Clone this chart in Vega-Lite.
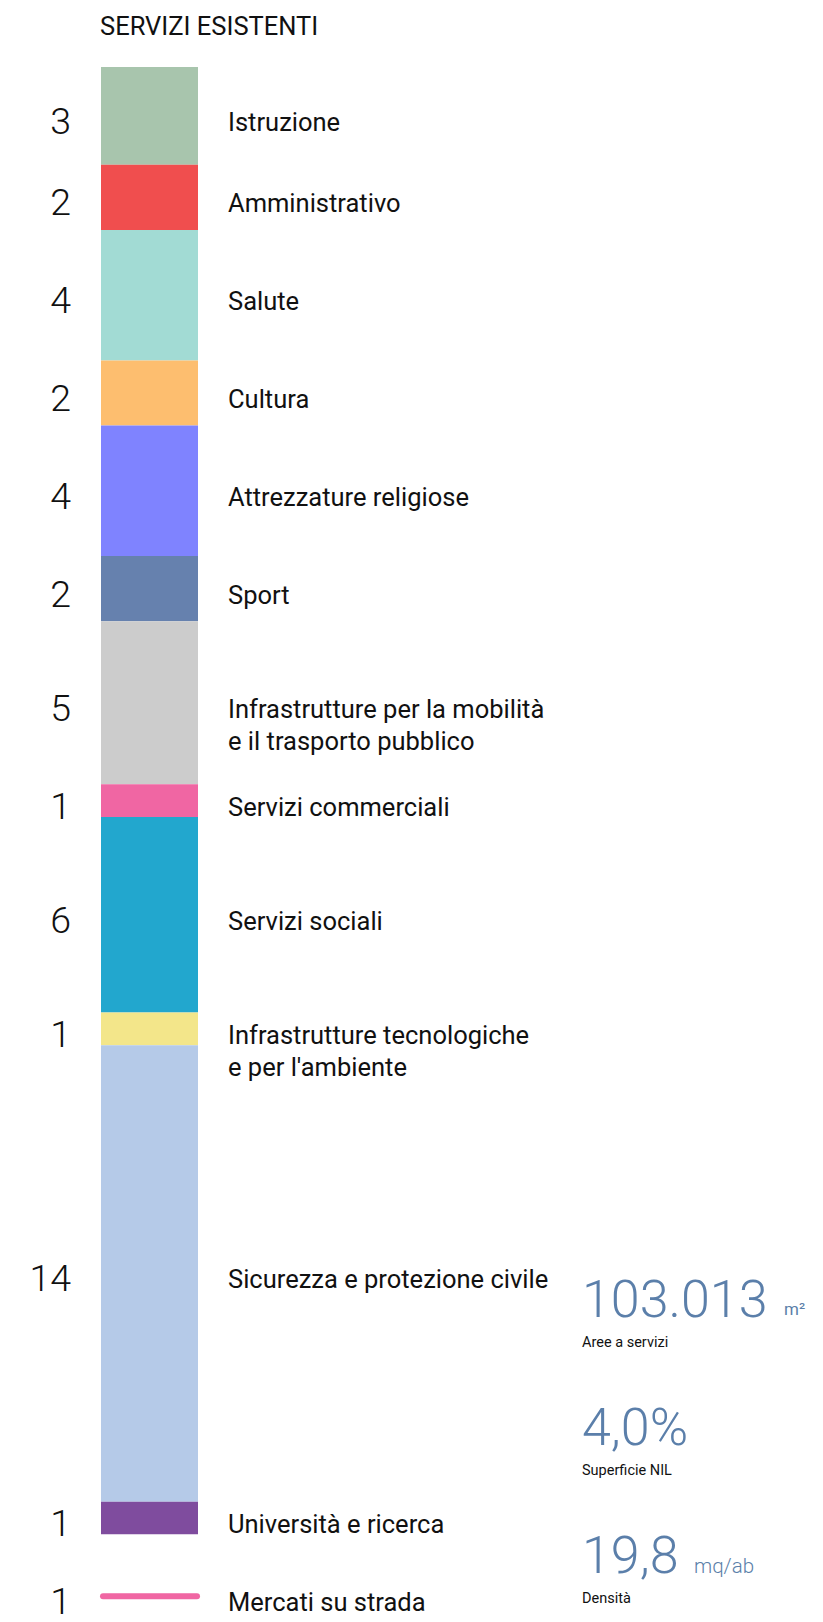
{
  "$schema": "https://vega.github.io/schema/vega-lite/v6.json",
  "width": 823,
  "height": 1622,
  "autosize": {"type": "fit", "contains": "padding"},
  "padding": 0,
  "background": "#ffffff",
  "config": {"view": {"stroke": null}, "font": "Roboto"},
  "datasets": {
    "servizi": [
      {"categoria": "Istruzione", "n": 3, "ordine": 1},
      {"categoria": "Amministrativo", "n": 2, "ordine": 2},
      {"categoria": "Salute", "n": 4, "ordine": 3},
      {"categoria": "Cultura", "n": 2, "ordine": 4},
      {"categoria": "Attrezzature religiose", "n": 4, "ordine": 5},
      {"categoria": "Sport", "n": 2, "ordine": 6},
      {"categoria": "Infrastrutture per la mobilità\ne il trasporto pubblico", "n": 5, "ordine": 7},
      {"categoria": "Servizi commerciali", "n": 1, "ordine": 8},
      {"categoria": "Servizi sociali", "n": 6, "ordine": 9},
      {"categoria": "Infrastrutture tecnologiche\ne per l'ambiente", "n": 1, "ordine": 10},
      {"categoria": "Sicurezza e protezione civile", "n": 14, "ordine": 11},
      {"categoria": "Università e ricerca", "n": 1, "ordine": 12}
    ],
    "mercati": [
      {"categoria": "Mercati su strada", "n": 1}
    ],
    "stats": [
      {"valore": "103.013", "unita": "m²", "didascalia": "Aree a servizi"},
      {"valore": "4,0%", "unita": "", "didascalia": "Superficie NIL"},
      {"valore": "19,8", "unita": "mq/ab", "didascalia": "Densità"}
    ],
    "titolo": [
      {"testo": "SERVIZI ESISTENTI"}
    ]
  },
  "layer": [
    {
      "data": {"name": "servizi"},
      "layer": [
        {
          "transform": [
            {"stack": "n", "groupby": [], "sort": [{"field": "ordine", "order": "ascending"}], "as": ["inizio", "fine"]}
          ],
          "mark": {"type": "rect"},
          "encoding": {
            "x": {"datum": 101, "type": "quantitative", "scale": {"domain": [0, 823], "nice": false, "zero": false}, "axis": null},
            "x2": {"datum": 198},
            "y": {"field": "inizio", "type": "quantitative", "scale": {"domain": [-2.052, 47.475], "reverse": true, "nice": false, "zero": false}, "axis": null},
            "y2": {"field": "fine"},
            "color": {
              "field": "categoria", "type": "nominal", "legend": null,
              "scale": {
                "domain": ["Istruzione", "Amministrativo", "Salute", "Cultura", "Attrezzature religiose", "Sport", "Infrastrutture per la mobilità\ne il trasporto pubblico", "Servizi commerciali", "Servizi sociali", "Infrastrutture tecnologiche\ne per l'ambiente", "Sicurezza e protezione civile", "Università e ricerca"],
                "range": ["#A8C5AD", "#F04E4E", "#A2DBD4", "#FDBE6F", "#7F83FF", "#6681AE", "#CCCCCC", "#F066A3", "#22A7CE", "#F3E68A", "#B5CAE8", "#7F4C9E"]
              }
            }
          }
        },
        {
          "mark": {"type": "text", "align": "right", "baseline": "middle", "fontSize": 37.5, "fontWeight": 300, "color": "#111111", "dy": 7},
          "encoding": {
            "x": {"datum": 71, "type": "quantitative", "scale": {"domain": [0, 823], "nice": false, "zero": false}, "axis": null},
            "y": {"field": "n", "type": "quantitative", "stack": "zero", "bandPosition": 0.5, "scale": {"domain": [-2.052, 47.475], "reverse": true, "nice": false, "zero": false}, "axis": null},
            "detail": {"field": "categoria", "type": "nominal"},
            "order": {"field": "ordine", "type": "quantitative"},
            "text": {"field": "n", "type": "quantitative"}
          }
        },
        {
          "mark": {"type": "text", "align": "left", "baseline": "middle", "fontSize": 25.5, "fontWeight": 400, "color": "#111111", "dy": 7, "lineBreak": "\n", "lineHeight": 32},
          "encoding": {
            "x": {"datum": 228, "type": "quantitative", "scale": {"domain": [0, 823], "nice": false, "zero": false}, "axis": null},
            "y": {"field": "n", "type": "quantitative", "stack": "zero", "bandPosition": 0.5, "scale": {"domain": [-2.052, 47.475], "reverse": true, "nice": false, "zero": false}, "axis": null},
            "detail": {"field": "categoria", "type": "nominal"},
            "order": {"field": "ordine", "type": "quantitative"},
            "text": {"field": "categoria", "type": "nominal"}
          }
        },
        {
          "data": {"name": "mercati"},
          "mark": {"type": "rule", "color": "#F066A3", "strokeWidth": 6, "strokeCap": "round"},
          "encoding": {
            "x": {"datum": 103, "type": "quantitative", "scale": {"domain": [0, 823], "nice": false, "zero": false}, "axis": null},
            "x2": {"datum": 197},
            "y": {"datum": 46.9, "type": "quantitative", "scale": {"domain": [-2.052, 47.475], "reverse": true, "nice": false, "zero": false}, "axis": null}
          }
        },
        {
          "data": {"name": "mercati"},
          "mark": {"type": "text", "align": "right", "baseline": "middle", "fontSize": 37.5, "fontWeight": 300, "color": "#111111", "dy": 7},
          "encoding": {
            "x": {"datum": 71, "type": "quantitative", "scale": {"domain": [0, 823], "nice": false, "zero": false}, "axis": null},
            "y": {"datum": 46.9, "type": "quantitative", "scale": {"domain": [-2.052, 47.475], "reverse": true, "nice": false, "zero": false}, "axis": null},
            "text": {"field": "n", "type": "quantitative"}
          }
        },
        {
          "data": {"name": "mercati"},
          "mark": {"type": "text", "align": "left", "baseline": "middle", "fontSize": 25.5, "fontWeight": 400, "color": "#111111", "dy": 7},
          "encoding": {
            "x": {"datum": 228, "type": "quantitative", "scale": {"domain": [0, 823], "nice": false, "zero": false}, "axis": null},
            "y": {"datum": 46.9, "type": "quantitative", "scale": {"domain": [-2.052, 47.475], "reverse": true, "nice": false, "zero": false}, "axis": null},
            "text": {"field": "categoria", "type": "nominal"}
          }
        },
        {
          "data": {"name": "titolo"},
          "mark": {"type": "text", "align": "left", "baseline": "alphabetic", "fontSize": 25.5, "fontWeight": 400, "color": "#111111"},
          "encoding": {
            "x": {"datum": 100, "type": "quantitative", "scale": {"domain": [0, 823], "nice": false, "zero": false}, "axis": null},
            "y": {"datum": -0.98, "type": "quantitative", "scale": {"domain": [-2.052, 47.475], "reverse": true, "nice": false, "zero": false}, "axis": null},
            "text": {"field": "testo", "type": "nominal"}
          }
        }
      ]
    },
    {
      "data": {"name": "stats"},
      "layer": [
        {
          "mark": {"type": "text", "align": "left", "baseline": "alphabetic", "fontSize": 52, "fontWeight": 300, "color": "#5B7FAA"},
          "encoding": {
            "x": {"datum": 582, "type": "quantitative", "scale": {"domain": [0, 823], "nice": false, "zero": false}, "axis": null},
            "y": {"field": "didascalia", "type": "nominal", "scale": {"type": "point", "domain": ["Aree a servizi", "Superficie NIL", "Densità"], "range": [1317, 1573], "padding": 0}, "axis": null},
            "text": {"field": "valore", "type": "nominal"}
          }
        },
        {
          "transform": [{"filter": "datum.unita == 'm²'"}],
          "mark": {"type": "text", "align": "left", "baseline": "alphabetic", "fontSize": 17, "fontWeight": 400, "color": "#5B7FAA", "dy": -2},
          "encoding": {
            "x": {"datum": 784, "type": "quantitative", "scale": {"domain": [0, 823], "nice": false, "zero": false}, "axis": null},
            "y": {"field": "didascalia", "type": "nominal", "scale": {"type": "point", "domain": ["Aree a servizi", "Superficie NIL", "Densità"], "range": [1317, 1573], "padding": 0}, "axis": null},
            "text": {"field": "unita", "type": "nominal"}
          }
        },
        {
          "transform": [{"filter": "datum.unita == 'mq/ab'"}],
          "mark": {"type": "text", "align": "left", "baseline": "alphabetic", "fontSize": 20.5, "fontWeight": 300, "color": "#5B7FAA"},
          "encoding": {
            "x": {"datum": 694, "type": "quantitative", "scale": {"domain": [0, 823], "nice": false, "zero": false}, "axis": null},
            "y": {"field": "didascalia", "type": "nominal", "scale": {"type": "point", "domain": ["Aree a servizi", "Superficie NIL", "Densità"], "range": [1317, 1573], "padding": 0}, "axis": null},
            "text": {"field": "unita", "type": "nominal"}
          }
        },
        {
          "mark": {"type": "text", "align": "left", "baseline": "alphabetic", "fontSize": 14.5, "fontWeight": 400, "color": "#111111", "dy": 30},
          "encoding": {
            "x": {"datum": 582, "type": "quantitative", "scale": {"domain": [0, 823], "nice": false, "zero": false}, "axis": null},
            "y": {"field": "didascalia", "type": "nominal", "scale": {"type": "point", "domain": ["Aree a servizi", "Superficie NIL", "Densità"], "range": [1317, 1573], "padding": 0}, "axis": null},
            "text": {"field": "didascalia", "type": "nominal"}
          }
        }
      ]
    }
  ],
  "resolve": {"scale": {"y": "independent"}}
}
